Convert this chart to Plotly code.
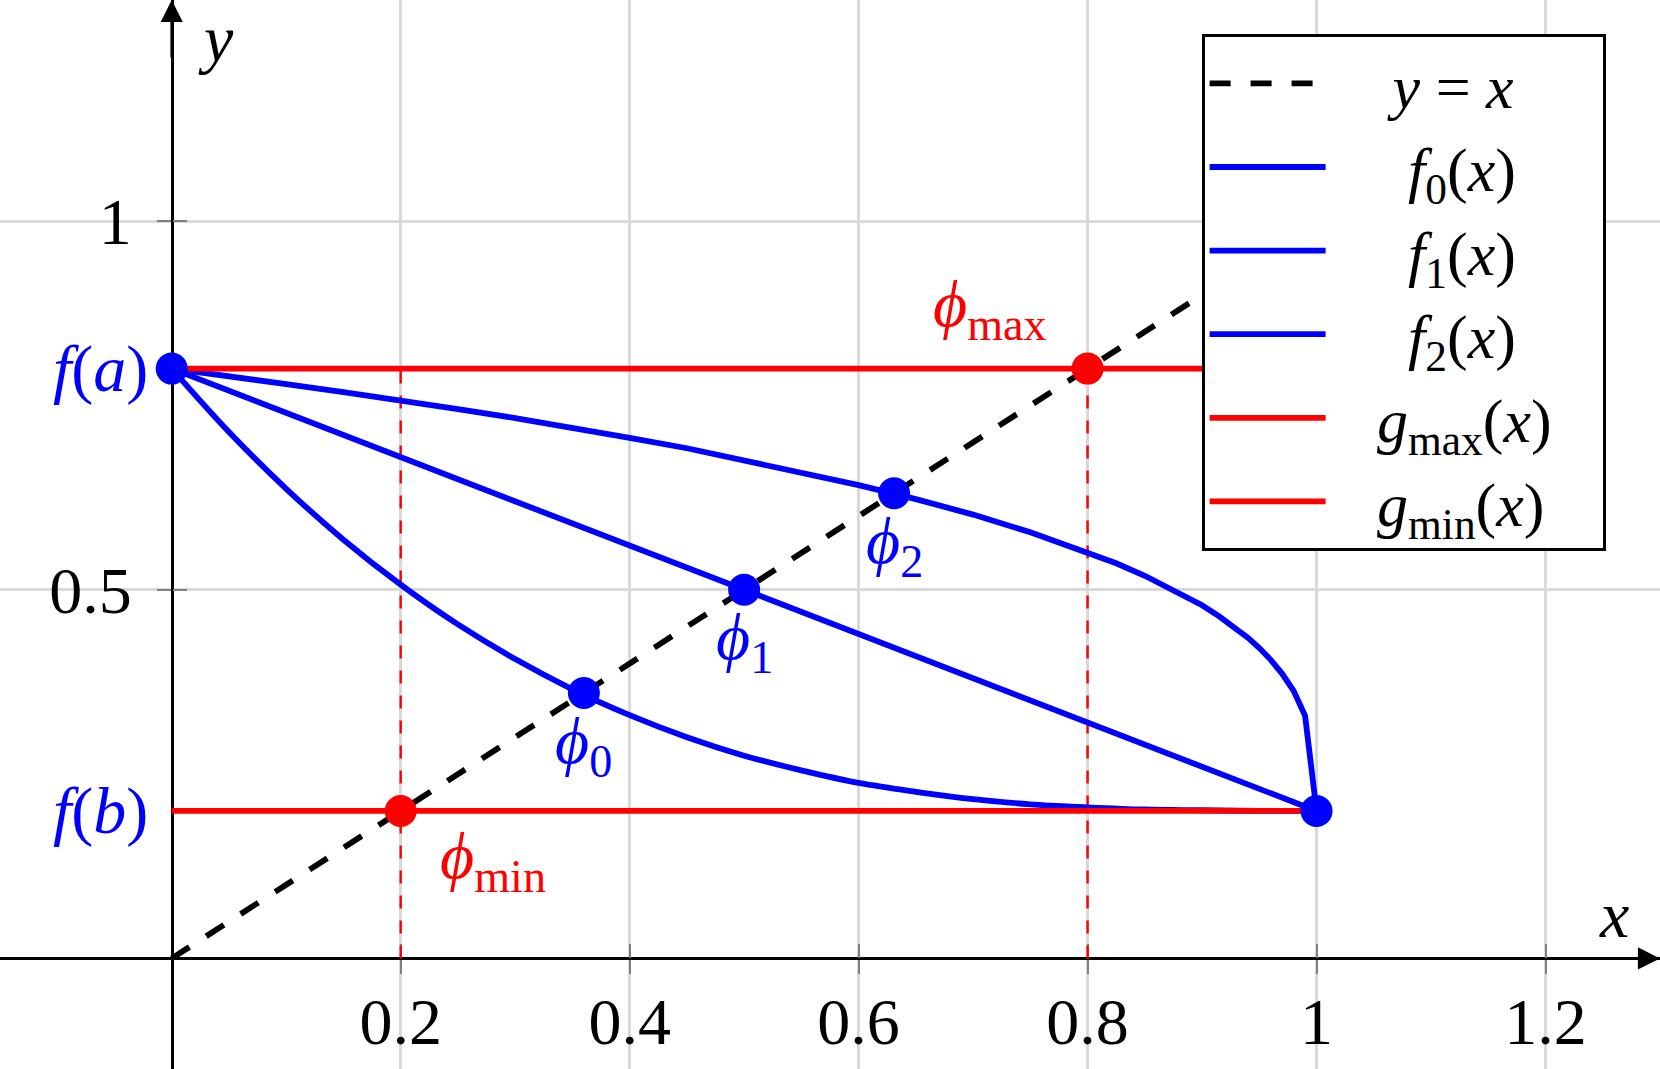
import plotly.graph_objects as go

# ---------------- data ----------------
f0_x = [0.0, 0.05, 0.1, 0.15, 0.2, 0.25, 0.3, 0.35, 0.4, 0.45, 0.5,
        0.55, 0.6, 0.65, 0.7, 0.75, 0.8, 0.85, 0.9, 0.95, 1.0]
f0_y = [0.800, 0.714, 0.637, 0.568, 0.507, 0.453, 0.406, 0.365, 0.330, 0.300, 0.275,
        0.255, 0.238, 0.226, 0.216, 0.209, 0.205, 0.202, 0.201, 0.200, 0.200]

f1_x = [0.0, 1.0]
f1_y = [0.8, 0.2]

f2_x = [0.0, 0.05, 0.1, 0.15, 0.2, 0.25, 0.3, 0.35, 0.4, 0.45, 0.5, 0.55, 0.6,
        0.65, 0.7, 0.75, 0.8, 0.825, 0.85, 0.875, 0.9, 0.915, 0.93, 0.94, 0.95,
        0.96, 0.97, 0.98, 0.99, 1.0]
f2_y = [0.800, 0.790, 0.779, 0.768, 0.757, 0.745, 0.733, 0.720, 0.706, 0.692, 0.676, 0.660, 0.642,
        0.623, 0.602, 0.578, 0.551, 0.536, 0.519, 0.500, 0.479, 0.464, 0.447, 0.435, 0.421,
        0.405, 0.386, 0.363, 0.329, 0.200]

diag_x = [0.0, 1.2]
diag_y = [0.0, 1.2]

gmax_x = [0.0, 1.0]
gmax_y = [0.8, 0.8]
gmin_x = [0.0, 1.0]
gmin_y = [0.2, 0.2]

end_x = [0.0, 1.0]          # (a, f(a)) and (b, f(b))
end_y = [0.8, 0.2]

fixed_x = [0.36, 0.5, 0.631]   # phi_0, phi_1, phi_2
fixed_y = [0.36, 0.5, 0.631]

bound_x = [0.2, 0.8]        # phi_min, phi_max
bound_y = [0.2, 0.8]

x_ticks = [0.2, 0.4, 0.6, 0.8, 1.0, 1.2]
x_tick_labels = ["0.2", "0.4", "0.6", "0.8", "1", "1.2"]
y_ticks = [0.5, 1.0]
y_tick_labels = ["0.5", "1"]

x_range = [-0.15, 1.3]
y_range = [-0.15, 1.3]

# ---------------- style ----------------
FONT = "Liberation Serif"
FS = 66
LEG_FS = 62
BLUE = "#0000ff"
RED = "#ff0000"
GRID = "#d9d9d9"
TICK = "#808080"
LW = 5.8
W, H = 1660, 1069
NB = "\u00a0"

fig = go.Figure()

# vertical thin dashed red guides (from x axis up to g_max)
vx, vy = [], []
for bx in bound_x:
    vx += [bx, bx, None]
    vy += [0.0, gmax_y[0], None]
fig.add_trace(go.Scatter(x=vx, y=vy, mode="lines", showlegend=False, hoverinfo="skip",
                         line=dict(color=RED, width=2.4, dash="13px,12px")))

fig.add_trace(go.Scatter(x=diag_x, y=diag_y, mode="lines",
                         name=NB * 4 + "<i>y</i> = <i>x</i>",
                         line=dict(color="black", width=LW, dash="21px,20px"),
                         legendgroup="a"))
fig.add_trace(go.Scatter(x=f0_x, y=f0_y, mode="lines", line_shape="spline",
                         name=NB * 5 + "<i>f</i><sub>0</sub>(<i>x</i>)",
                         line=dict(color=BLUE, width=LW), legendgroup="b"))
fig.add_trace(go.Scatter(x=f1_x, y=f1_y, mode="lines",
                         name=NB * 5 + "<i>f</i><sub>1</sub>(<i>x</i>)",
                         line=dict(color=BLUE, width=LW), legendgroup="c"))
fig.add_trace(go.Scatter(x=f2_x, y=f2_y, mode="lines",
                         name=NB * 5 + "<i>f</i><sub>2</sub>(<i>x</i>)",
                         line=dict(color=BLUE, width=LW), legendgroup="d"))
fig.add_trace(go.Scatter(x=gmax_x, y=gmax_y, mode="lines",
                         name=NB * 3 + "<i>g</i><sub>max</sub>(<i>x</i>)" + NB * 3,
                         line=dict(color=RED, width=LW), legendgroup="e"))
fig.add_trace(go.Scatter(x=gmin_x, y=gmin_y, mode="lines",
                         name=NB * 3 + "<i>g</i><sub>min</sub>(<i>x</i>)",
                         line=dict(color=RED, width=LW), legendgroup="f"))

# markers
fig.add_trace(go.Scatter(x=bound_x, y=bound_y, mode="markers", showlegend=False, hoverinfo="skip",
                         marker=dict(color=RED, size=32, line=dict(width=0))))
fig.add_trace(go.Scatter(x=end_x + fixed_x, y=end_y + fixed_y, mode="markers", showlegend=False,
                         hoverinfo="skip", marker=dict(color=BLUE, size=32, line=dict(width=0))))

# invisible trace to activate the overlay axes used for the upper/right halves of the ticks
fig.add_trace(go.Scatter(x=[None], y=[None], xaxis="x2", yaxis="y2", showlegend=False,
                         hoverinfo="skip"))

# axis crossing positions (in paper fractions, from the ranges)
x0_frac = (0 - x_range[0]) / (x_range[1] - x_range[0])
y0_frac = (0 - y_range[0]) / (y_range[1] - y_range[0])

tickfont = dict(family=FONT, size=FS, color="black")

fig.update_layout(
    width=W, height=H,
    margin=dict(l=0, r=0, t=0, b=0),
    paper_bgcolor="white", plot_bgcolor="white",
    xaxis=dict(range=x_range, anchor="free", position=y0_frac, tickvals=x_ticks,
               ticktext=x_tick_labels, ticks="outside", ticklen=14, tickwidth=2,
               tickcolor=TICK, showgrid=True, gridcolor=GRID, gridwidth=2.5,
               zeroline=False, showline=True, linecolor="black", linewidth=2.6,
               tickfont=tickfont, layer="below traces", automargin=False,
               ticklabelstandoff=-9),
    yaxis=dict(range=y_range, anchor="free", position=x0_frac, tickvals=y_ticks,
               ticktext=y_tick_labels, ticks="outside", ticklen=14, tickwidth=2,
               tickcolor=TICK, showgrid=True, gridcolor=GRID, gridwidth=2.5,
               zeroline=False, showline=True, linecolor="black", linewidth=2.6,
               tickfont=tickfont, layer="below traces", automargin=False,
               ticklabelstandoff=12),
    xaxis2=dict(range=x_range, overlaying="x", anchor="free", position=y0_frac,
                tickvals=x_ticks, ticks="inside", ticklen=14, tickwidth=2, tickcolor=TICK,
                showticklabels=False, showgrid=False, zeroline=False, showline=False,
                layer="below traces"),
    yaxis2=dict(range=y_range, overlaying="y", anchor="free", position=x0_frac,
                tickvals=y_ticks, ticks="inside", ticklen=14, tickwidth=2, tickcolor=TICK,
                showticklabels=False, showgrid=False, zeroline=False, showline=False,
                layer="below traces"),
    showlegend=True,
    legend=dict(x=1202 / W, y=1 - 34 / H, xanchor="left", yanchor="top",
                bgcolor="white", bordercolor="black", borderwidth=2.6,
                font=dict(family=FONT, size=LEG_FS, color="black"),
                itemwidth=116, tracegroupgap=0, traceorder="normal"),
)

ann = []
# axis arrow heads
ann.append(dict(x=x_range[1], y=0, ax=x_range[1] - 0.05, ay=0, xref="x", yref="y",
                axref="x", ayref="y", text="", showarrow=True, arrowhead=2,
                arrowsize=1.7, arrowwidth=2.6, arrowcolor="black"))
ann.append(dict(x=0, y=y_range[1], ax=0, ay=y_range[1] - 0.08, xref="x", yref="y",
                axref="x", ayref="y", text="", showarrow=True, arrowhead=2,
                arrowsize=1.7, arrowwidth=2.6, arrowcolor="black"))

def label(x, y, text, color, xs=0, ys=0, xanchor="center"):
    ann.append(dict(x=x, y=y, xref="x", yref="y", text=text, showarrow=False,
                    xanchor=xanchor, yanchor="middle", xshift=xs, yshift=ys,
                    font=dict(family=FONT, size=FS, color=color)))

label(0, end_y[0], "<i>f</i>(<i>a</i>)", BLUE, xs=-22, xanchor="right")
label(0, end_y[1], "<i>f</i>(<i>b</i>)", BLUE, xs=-22, xanchor="right")
for i, (px, py) in enumerate(zip(fixed_x, fixed_y)):
    label(px, py, "<i>ϕ</i><sub>%d</sub>" % i, BLUE, ys=-52)
label(bound_x[1], bound_y[1], "<i>ϕ</i><sub>max</sub>", RED, xs=-98, ys=60)
label(bound_x[0], bound_y[0], "<i>ϕ</i><sub>min</sub>", RED, xs=92, ys=-50)
label(x_range[1] - 0.04, 0, "<i>x</i>", "black", ys=44)
label(0, y_range[1] - 0.06, "<i>y</i>", "black", xs=44, ys=6)

fig.update_layout(annotations=ann)

fig.write_html("out.html", config={"displayModeBar": False},
               post_script="document.body.style.margin='0';")
